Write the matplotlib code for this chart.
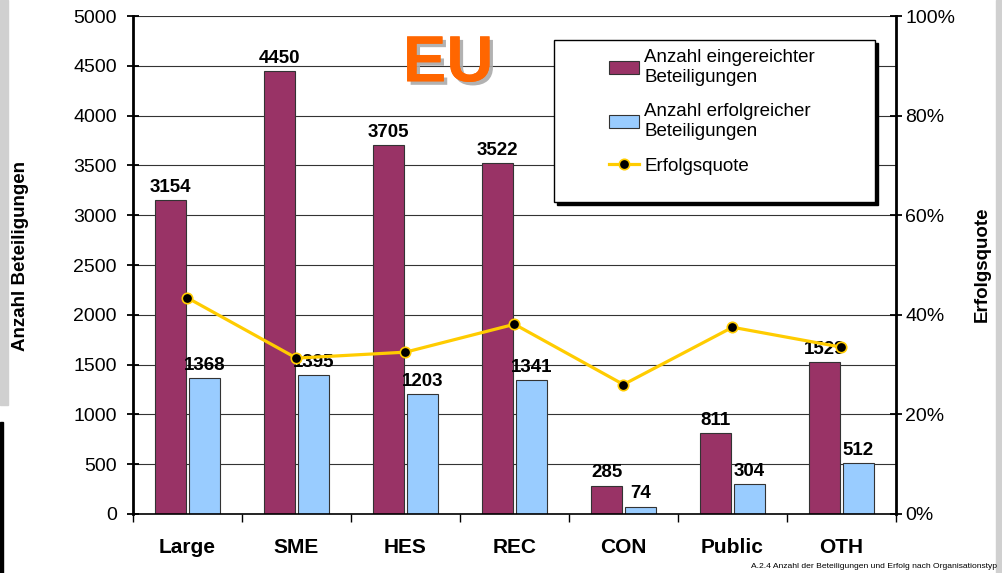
import numpy as np
import matplotlib.pyplot as plt
import matplotlib.patheffects as pe
from matplotlib.patches import Rectangle

plt.rcParams['font.family'] = ['Liberation Sans', 'DejaVu Sans']

categories = ['Large', 'SME', 'HES', 'REC', 'CON', 'Public', 'OTH']
eingereicht = [3154, 4450, 3705, 3522, 285, 811, 1529]
erfolgreich = [1368, 1395, 1203, 1341, 74, 304, 512]
quote = [43.4, 31.3, 32.5, 38.1, 26.0, 37.5, 33.5]

maroon = '#993366'
lightblue = '#99CCFF'
yellow = '#FFCC00'

fig = plt.figure(figsize=(10.02, 5.73), dpi=100)
ax = fig.add_axes([0.1327, 0.103, 0.7615, 0.869])

# rand-artefakte aus dem original-screenshot
fig.patches.append(Rectangle((0, 0.293), 0.008, 0.707, transform=fig.transFigure,
                             color='#d0d0d0', zorder=0))
fig.patches.append(Rectangle((0.994, 0), 0.006, 1, transform=fig.transFigure,
                             color='#d0d0d0', zorder=0))
fig.patches.append(Rectangle((0, 0), 0.003, 0.264, transform=fig.transFigure,
                             color='black', zorder=0))

x = np.arange(len(categories))
w = 0.29
b1 = ax.bar(x - 0.155, eingereicht, w, color=maroon, edgecolor='#333333', linewidth=0.8, zorder=2)
b2 = ax.bar(x + 0.155, erfolgreich, w, color=lightblue, edgecolor='#333333', linewidth=0.8, zorder=2)

for xi, v in zip(x, eingereicht):
    ax.annotate(str(v), (xi - 0.155, v), xytext=(0, 3), textcoords='offset points',
                ha='center', va='bottom', fontsize=13.5, fontweight='bold', zorder=3)
for xi, v in zip(x, erfolgreich):
    ax.annotate(str(v), (xi + 0.155, v), xytext=(0, 3), textcoords='offset points',
                ha='center', va='bottom', fontsize=13.5, fontweight='bold', zorder=3)

ax.set_xlim(-0.5, len(categories) - 0.5)
ax.set_ylim(0, 5000)
ax.set_yticks(np.arange(0, 5001, 500))
ax.yaxis.grid(True, color='#333333', linewidth=0.8, zorder=0)
ax.set_axisbelow(True)
ax.set_xticks(x)
ax.set_xticklabels(categories, fontsize=15, fontweight='bold')
ax.set_xticks(np.arange(-0.5, len(categories)), minor=True)
ax.tick_params(axis='x', which='major', length=0, pad=17)
ax.tick_params(axis='x', which='minor', length=6, direction='out', width=1)
ax.tick_params(axis='y', labelsize=14, direction='inout', length=9, width=1.3, pad=7)
ax.spines['top'].set_visible(False)
ax.spines['right'].set_visible(False)
ax.spines['left'].set_linewidth(2)
ax.spines['bottom'].set_linewidth(1.2)

ax2 = ax.twinx()
ax2.set_ylim(0, 100)
ax2.set_yticks(np.arange(0, 101, 20))
ax2.set_yticklabels([f'{t}%' for t in range(0, 101, 20)])
ax2.tick_params(axis='y', labelsize=14, direction='inout', length=9, width=1.3, pad=2)
for s in ['top', 'left', 'bottom']:
    ax2.spines[s].set_visible(False)
ax2.spines['right'].set_linewidth(2)
ln, = ax2.plot(x, quote, color=yellow, linewidth=2.3, marker='o', markersize=7.5,
               markerfacecolor='black', markeredgecolor=yellow, markeredgewidth=1.2, zorder=4)

fig.text(21 / 1002, 0.553, 'Anzahl Beteiligungen', rotation=90, fontsize=13.5,
         fontweight='bold', ha='center', va='center')
fig.text(982 / 1002, 0.539, 'Erfolgsquote', rotation=90, fontsize=13.5,
         fontweight='bold', ha='center', va='center')

# legendenrahmen mit schatten, legende selbst ohne rahmen
ax2.add_patch(Rectangle((0.556, 0.6205), 0.4205, 0.3255, transform=ax2.transAxes,
                        facecolor='black', edgecolor='black', zorder=9, clip_on=False))
ax2.add_patch(Rectangle((0.552, 0.6265), 0.4205, 0.3255, transform=ax2.transAxes,
                        facecolor='white', edgecolor='black', linewidth=1, zorder=9,
                        clip_on=False))
leg = ax2.legend([b1, b2, ln],
                 ['Anzahl eingereichter\nBeteiligungen', 'Anzahl erfolgreicher\nBeteiligungen', 'Erfolgsquote'],
                 loc='upper left', bbox_to_anchor=(0.624, 0.933), fontsize=13.5,
                 frameon=False, borderpad=0, handlelength=1.6, handletextpad=0.27,
                 labelspacing=0.93, borderaxespad=0)
leg.set_zorder(10)

ax2.text(0.413, 0.903, 'EU', transform=ax2.transAxes, fontsize=47, fontweight='bold',
         color='#FF6600', ha='center', va='center',
         path_effects=[pe.withSimplePatchShadow(offset=(2.5, -2.5), shadow_rgbFace='#aaaaaa', alpha=0.9),
                       pe.Normal()])

fig.text(0.995, 0.006, 'A.2.4 Anzahl der Beteiligungen und Erfolg nach Organisationstyp',
         fontsize=6.1, ha='right', va='bottom')

fig.savefig('out.png', dpi=100)
